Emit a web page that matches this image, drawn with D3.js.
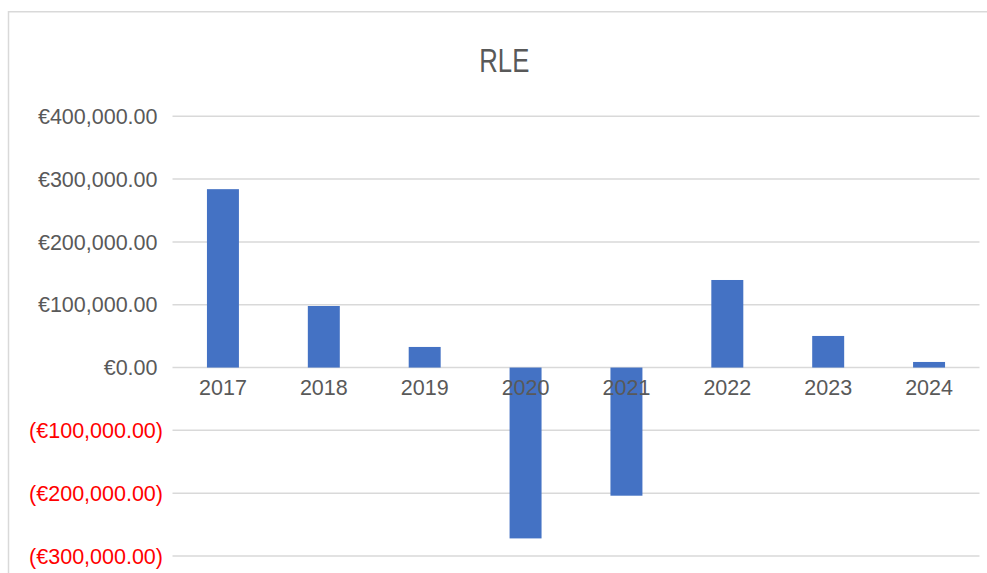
<!DOCTYPE html>
<html>
<head>
<meta charset="utf-8">
<script src="https://cdn.jsdelivr.net/npm/d3@7/dist/d3.min.js"></script>
<style>
  html, body { margin: 0; padding: 0; background: #ffffff; }
  svg { display: block; }
</style>
</head>
<body>
<svg id="chart" width="987" height="573"></svg>
<script>
const title = "RLE";
const years = ["2017", "2018", "2019", "2020", "2021", "2022", "2023", "2024"];
const values = [284000, 98000, 32800, -272000, -204000, 139400, 50300, 8900];
const yTicks = [400000, 300000, 200000, 100000, 0, -100000, -200000, -300000];

const svg = d3.select("#chart");
const font = "'Liberation Sans', Arial, sans-serif";

// chart border (top + left visible)
svg.append("path")
  .attr("d", "M8.5,600 V11.75 H1000")
  .attr("fill", "none")
  .attr("stroke", "#d9d9d9")
  .attr("stroke-width", 1.5);

const x = d3.scaleBand()
  .domain(years)
  .range([172.5, 979.5])
  .paddingInner(0.683)
  .paddingOuter(0.3415);

const y = d3.scaleLinear()
  .domain([-300000, 400000])
  .range([556, 116.3]);

// gridlines
svg.append("g")
  .selectAll("line")
  .data(yTicks)
  .join("line")
  .attr("x1", 172.5)
  .attr("x2", 979.5)
  .attr("y1", d => y(d))
  .attr("y2", d => y(d))
  .attr("stroke", "#d9d9d9")
  .attr("stroke-width", 1.5);

// y labels
const fmt = v => {
  const s = "€" + d3.format(",.2f")(Math.abs(v));
  return v < 0 ? "(" + s + ")" : s;
};
svg.append("g")
  .selectAll("text")
  .data(yTicks)
  .join("text")
  .attr("x", d => d < 0 ? 163 : 157.5)
  .attr("y", d => y(d))
  .attr("dy", "0.36em")
  .attr("text-anchor", "end")
  .attr("font-family", font)
  .attr("font-size", "21.5px")
  .attr("fill", d => d < 0 ? "#ff0000" : "#595959")
  .text(fmt);

// bars
svg.append("g")
  .selectAll("rect")
  .data(years.map((c, i) => ({ c, v: values[i] })))
  .join("rect")
  .attr("x", d => x(d.c))
  .attr("width", x.bandwidth())
  .attr("y", d => y(Math.max(0, d.v)))
  .attr("height", d => Math.abs(y(d.v) - y(0)))
  .attr("fill", "#4472c4");

// category labels (drawn over bars)
svg.append("g")
  .selectAll("text")
  .data(years)
  .join("text")
  .attr("x", d => x(d) + x.bandwidth() / 2)
  .attr("y", 387)
  .attr("dy", "0.36em")
  .attr("text-anchor", "middle")
  .attr("font-family", font)
  .attr("font-size", "21.5px")
  .attr("fill", "#595959")
  .text(d => d);

// title
svg.append("text")
  .attr("x", 504.3)
  .attr("y", 72.3)
  .attr("text-anchor", "middle")
  .attr("font-family", font)
  .attr("font-size", "33.5px")
  .attr("fill", "#595959")
  .attr("textLength", 50)
  .attr("lengthAdjust", "spacingAndGlyphs")
  .text(title);
</script>
</body>
</html>
